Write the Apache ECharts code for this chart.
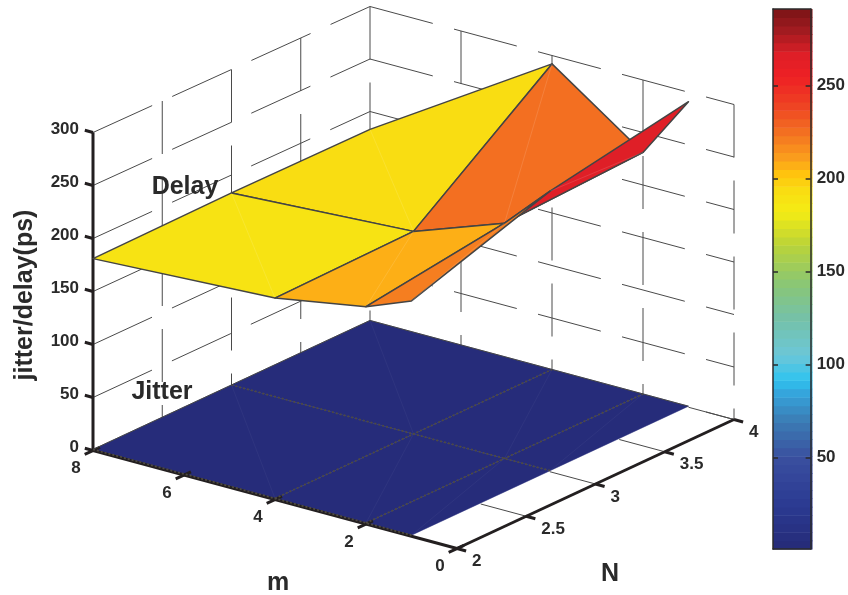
<!DOCTYPE html>
<html>
<head>
<meta charset="utf-8">
<script src="https://cdn.jsdelivr.net/npm/echarts@6/dist/echarts.min.js"></script>
<style>html,body{margin:0;padding:0;background:#fff}#c{width:848px;height:595px}</style>
</head>
<body>
<div id="c"></div>
<script>
// ---- data ----
const mValues = [1, 2, 4, 8];
const nValues = [2, 3, 4];
const delayAtN2 = [222, 205, 190, 181];
const delayAtN3 = [266, 224, 193, 183];
const delayAtN4 = [291, 231, 292, 183];
const jitterAtN2 = [1, 1, 1, 1];
const jitterAtN3 = [1, 1, 1, 1];
const jitterAtN4 = [1, 1, 1, 1];
const zTicks = [0, 50, 100, 150, 200, 250, 300];
const mTicks = [8, 6, 4, 2, 0];
const nTicks = [2, 2.5, 3, 3.5, 4];
const colorTicks = [50, 100, 150, 200, 250];
const colorMin = 1, colorMax = 291, colorLevels = 64;

// ---- view of the 3D box ----
const ORIGIN = [93, 450.5], M_STEP = [-45.5, -12.25], N_STEP = [138.5, -64.5];
const FONT = 'bold 17px "Liberation Sans", Arial, sans-serif';
const TITLE_FONT = 'bold 25px "Liberation Sans", Arial, sans-serif';
const INK = '#2a2a2a', GRID = '#4a4a4a', AXIS = '#231f20', EDGE = '#444';

function project(m, n, z) {
  const zScale = (318 - (n - 2) * 1.5) / 300;
  return [
    ORIGIN[0] + (m - 8) * M_STEP[0] + (n - 2) * N_STEP[0],
    ORIGIN[1] + (m - 8) * M_STEP[1] + (n - 2) * N_STEP[1] - z * zScale
  ];
}

const colorStops = [
  [1,'#252a78'],[25,'#2b3a92'],[50,'#3a4f9f'],[70,'#3b7db5'],[85,'#35a5dc'],[92,'#2fc3ef'],
  [105,'#6cc7d8'],[125,'#75c1a8'],[145,'#8cc770'],[165,'#bcd437'],[182,'#f4ec14'],[194,'#f9dc12'],
  [203,'#ffc20e'],[210,'#fba21c'],[225,'#f37021'],[240,'#ee4023'],[255,'#ee2024'],[266,'#df1f27'],
  [280,'#a01b20'],[291,'#7a1416']
];
function hex(c){return [1,3,5].map(i=>parseInt(c.substr(i,2),16));}
function colorAt(v){
  const lev = Math.min(colorLevels-1, Math.floor((v-colorMin)/(colorMax-colorMin)*colorLevels));
  const c = colorMin + (lev+0.5)*(colorMax-colorMin)/colorLevels;
  for(let i=1;i<colorStops.length;i++){
    if(c<=colorStops[i][0]){
      const a=colorStops[i-1],b=colorStops[i],t=(c-a[0])/(b[0]-a[0]),x=hex(a[1]),y=hex(b[1]);
      return 'rgb('+x.map((q,k)=>Math.round(q+(y[k]-q)*t)).join(',')+')';
    }
  }
  return colorStops[colorStops.length-1][1];
}

// surface facets, painted back to front; colour comes from the lowest-index corner
const delayRows = [delayAtN2, delayAtN3, delayAtN4];
const jitterRows = [jitterAtN2, jitterAtN3, jitterAtN4];
function facets(rows){
  const out=[];
  for(let j=nValues.length-2;j>=0;j--){
    for(let i=mValues.length-2;i>=0;i--){
      out.push([mValues[i],mValues[i+1],nValues[j],nValues[j+1],
        rows[j][i],rows[j][i+1],rows[j+1][i+1],rows[j+1][i],rows[j][i]]);
    }
  }
  return out;
}
function px(api,p){return api.coord(p);}

function renderFacet(strokeOn,seam){
  return function(params,api){
    const m0=api.value(0),m1=api.value(1),n0=api.value(2),n1=api.value(3);
    const a=px(api,project(m0,n0,api.value(4))),b=px(api,project(m1,n0,api.value(5))),
          c=px(api,project(m1,n1,api.value(6))),d=px(api,project(m0,n1,api.value(7)));
    const fill=colorAt(api.value(8));
    const kids=[{type:'polygon',shape:{points:[a,b,c,d]},
      style:{fill:fill,stroke:strokeOn?EDGE:fill,lineWidth:strokeOn?1.5:0.5,lineJoin:'round'}}];
    kids.push({type:'line',shape:{x1:a[0],y1:a[1],x2:c[0],y2:c[1]},
      style:{stroke:'rgba(255,255,255,'+seam+')',lineWidth:1}});
    return {type:'group',children:kids};
  };
}

// wall and floor grid lines: [m0,n0,z0,m1,n1,z1,kind]
const gridData=[];
zTicks.forEach(z=>{ gridData.push([8,2,z,8,4,z,0]); gridData.push([8,4,z,0,4,z,0]); });
nTicks.slice(1).forEach(n=>{ gridData.push([8,n,300,8,n,0,1]); });
mTicks.slice(1).forEach(m=>{ gridData.push([m,4,300,m,4,0,1]); });
nTicks.slice(1,4).forEach(n=>{ gridData.push([1,n,0,0,n,0,2]); });
gridData.push([1,4,0,0,4,0,2]);

function renderSeg(params,api){
  const p=px(api,project(api.value(0),api.value(1),api.value(2)));
  const q=px(api,project(api.value(3),api.value(4),api.value(5)));
  const k=api.value(6);
  const style={stroke:GRID,lineWidth:1,fill:null};
  if(k===0) style.lineDash=[65,22];
  if(k===1) style.lineDash=[53,23];
  if(k===3){style.stroke=AXIS;style.lineWidth=3;}
  if(k===4){style.stroke='#4e4a42';style.lineWidth=1.8;style.lineDash=[2,2];}
  if(k===5){style.stroke=EDGE;style.lineWidth=1;}
  return {type:'line',shape:{x1:p[0],y1:p[1],x2:q[0],y2:q[1]},style:style};
}

// axes and ticks
const axisData=[[8,2,0,8,2,300,3],[8,2,0,0,2,0,3],[0,2,0,0,4,0,3]];
zTicks.forEach(z=>axisData.push([8,2,z,8.18,2,z,3]));
mTicks.forEach(m=>axisData.push([m,1.94,0,m,2.05,0,3]));
nTicks.forEach(n=>axisData.push([0,n,0,-0.2,n,0,3]));

// lines drawn on the jitter sheet
const jitterLines=[
  [8,2,1,1,2,1,4],[8,3,1,1,3,1,4],[4,2,1,4,4,1,4],[2,2,1,2,4,1,4],
  [8,2,1,8,4,1,5],[8,4,1,1,4,1,5]
];

// tick labels: [text, m, n, z, dx, dy, align]
const labelData=[];
zTicks.forEach(z=>labelData.push([String(z),8,2,z,-14,-3,'right']));
mTicks.forEach(m=>labelData.push([String(m),m,2,0,-17,18,'center']));
nTicks.forEach(n=>labelData.push([String(n),0,n,0,15,13,'left']));

function renderLabel(params,api){
  const d=labelData[params.dataIndex];
  const p=px(api,project(d[1],d[2],d[3]));
  return {type:'text',style:{text:d[0],x:p[0]+d[4],y:p[1]+d[5],font:FONT,fill:INK,textAlign:d[6],textVerticalAlign:'middle'}};
}

const titles=[
  {text:'jitter/delay(ps)',at:[25,295],rot:Math.PI/2},
  {text:'Delay',at:[185,187],rot:0},
  {text:'Jitter',at:[162,392],rot:0},
  {text:'m',at:[278,583],rot:0},
  {text:'N',at:[610,574],rot:0}
];
function renderTitle(params,api){
  const t=titles[params.dataIndex],p=px(api,t.at);
  return {type:'text',x:p[0],y:p[1],rotation:t.rot,
    style:{text:t.text,x:0,y:0,font:TITLE_FONT,fill:INK,textAlign:'center',textVerticalAlign:'middle'}};
}

// colour bar cells
const barCells=[];
for(let i=0;i<colorLevels;i++){
  const lo=colorMin+i*(colorMax-colorMin)/colorLevels, hi=colorMin+(i+1)*(colorMax-colorMin)/colorLevels;
  barCells.push([0,lo,hi]);
}
function renderCell(params,api){
  const a=api.coord([0,api.value(1)]),b=api.coord([1.05,api.value(2)]);
  return {type:'rect',shape:{x:a[0],y:b[1],width:b[0]-a[0],height:a[1]-b[1]+0.6},
    style:{fill:colorAt((api.value(1)+api.value(2))/2)}};
}

const sceneAxis={xAxisIndex:0,yAxisIndex:0,coordinateSystem:'cartesian2d',silent:true,clip:false,animation:false};

const option={
  animation:false,
  backgroundColor:'#fff',
  grid:[
    {left:0,top:0,width:848,height:595},
    {left:773,top:9,width:41,height:540}
  ],
  xAxis:[
    {type:'value',gridIndex:0,min:0,max:848,show:false},
    {type:'value',gridIndex:1,z:20,min:0,max:1,position:'bottom',axisTick:{show:false},axisLabel:{show:false},splitLine:{show:false},axisLine:{show:true,onZero:false,lineStyle:{color:'#2b2b2b',width:1.5}}},
    {type:'value',gridIndex:1,z:20,min:0,max:1,position:'top',axisTick:{show:false},axisLabel:{show:false},splitLine:{show:false},axisLine:{show:true,onZero:false,lineStyle:{color:'#2b2b2b',width:1.5}}}
  ],
  yAxis:[
    {type:'value',gridIndex:0,min:0,max:595,inverse:true,show:false},
    {type:'value',gridIndex:1,z:20,min:colorMin,max:colorMax,position:'right',splitLine:{show:false},
      axisLine:{show:true,onZero:false,lineStyle:{color:'#2b2b2b',width:1.5}},
      axisTick:{show:true,inside:true,length:5,customValues:colorTicks,lineStyle:{color:'#2b2b2b',width:1.5}},
      axisLabel:{show:true,margin:6,customValues:colorTicks,color:INK,fontSize:17,fontWeight:'bold',fontFamily:'"Liberation Sans", Arial, sans-serif',hideOverlap:false}},
    {type:'value',gridIndex:1,z:20,min:colorMin,max:colorMax,position:'left',splitLine:{show:false},
      axisLine:{show:true,onZero:false,lineStyle:{color:'#2b2b2b',width:1.5}},
      axisTick:{show:true,inside:true,length:5,customValues:colorTicks,lineStyle:{color:'#2b2b2b',width:1.5}},
      axisLabel:{show:false}}
  ],
  series:[
    Object.assign({type:'custom',name:'grid',renderItem:renderSeg,data:gridData,z:1},sceneAxis),
    Object.assign({type:'custom',name:'Jitter',renderItem:renderFacet(false,0.04),data:facets(jitterRows),z:2},sceneAxis),
    Object.assign({type:'custom',name:'axes',renderItem:renderSeg,data:axisData,z:3},sceneAxis),
    Object.assign({type:'custom',name:'jitter lines',renderItem:renderSeg,data:jitterLines,z:4},sceneAxis),
    Object.assign({type:'custom',name:'Delay',renderItem:renderFacet(true,0.12),data:facets(delayRows),z:5},sceneAxis),
    Object.assign({type:'custom',name:'tick labels',renderItem:renderLabel,data:labelData.map((d,i)=>[i,i]),z:6},sceneAxis),
    Object.assign({type:'custom',name:'titles',renderItem:renderTitle,data:titles.map((d,i)=>[i,i]),z:7},sceneAxis),
    {type:'custom',name:'colour bar',coordinateSystem:'cartesian2d',xAxisIndex:1,yAxisIndex:1,silent:true,clip:false,animation:false,
      renderItem:renderCell,data:barCells,encode:{x:0,y:1},z:0}
  ]
};
echarts.init(document.getElementById('c'),null,{renderer:'canvas'}).setOption(option);
</script>
</body>
</html>
